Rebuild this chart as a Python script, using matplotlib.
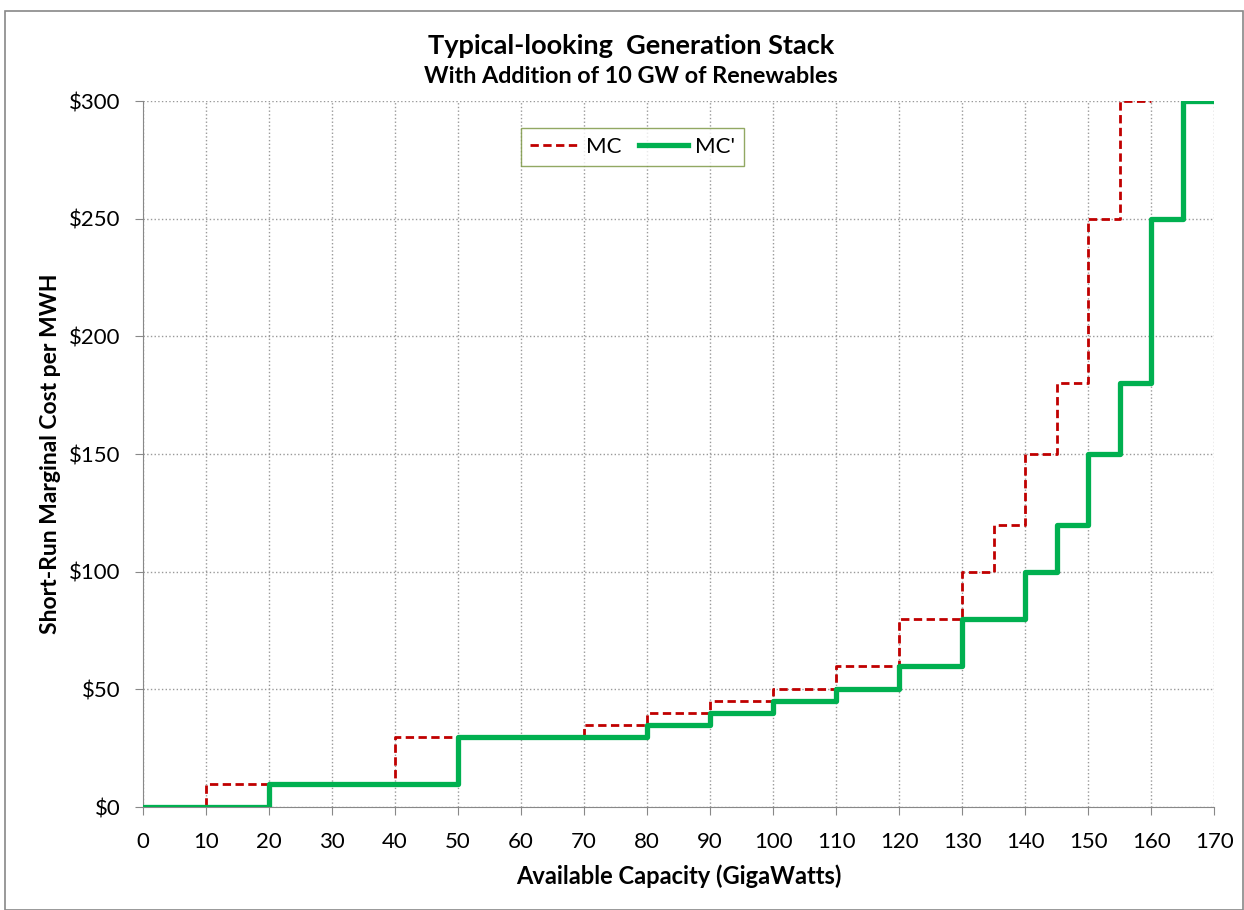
import matplotlib
matplotlib.use("Agg")
import matplotlib.pyplot as plt
import numpy as np

plt.rcParams['font.family'] = ['Lato', 'DejaVu Sans']

# step edges (GW) and marginal cost ($/MWh)
mc_edges = [0, 10, 40, 70, 80, 90, 100, 110, 120, 130, 135, 140, 145, 150, 155, 160]
mc_cost = [0, 10, 30, 35, 40, 45, 50, 60, 80, 100, 120, 150, 180, 250, 300]
mc2_edges = [0, 20, 50, 80, 90, 100, 110, 120, 130, 140, 145, 150, 155, 160, 165, 170]
mc2_cost = [0, 10, 30, 35, 40, 45, 50, 60, 80, 100, 120, 150, 180, 250, 300]

x_ticks = list(range(0, 171, 10))
y_ticks = [0, 50, 100, 150, 200, 250, 300]

fig = plt.figure(figsize=(12.44, 9.10), dpi=100)
ax = fig.add_axes([0.115, 0.113, 0.861, 0.776])

# red dashed original stack
ax.step(mc_edges, mc_cost + [mc_cost[-1]], where='post', color='#C00000',
        lw=2.0, ls=(0, (3, 1.6)), label='MC', zorder=3)
# green shifted stack
ax.step(mc2_edges, mc2_cost + [mc2_cost[-1]], where='post', color='#00B050',
        lw=3.8, label="MC'", zorder=4)

ax.set_xlim(0, 170)
ax.set_ylim(0, 300)
ax.set_xticks(x_ticks)
ax.set_yticks(y_ticks)
ax.set_yticklabels(['$' + str(v) for v in y_ticks])
ax.grid(True, color='#999999', ls=':', lw=1)
for s in ['top', 'right']:
    ax.spines[s].set_visible(False)
for s in ['left', 'bottom']:
    ax.spines[s].set_color('#888888')
ax.tick_params(direction='out', length=6, color='#888888', labelsize=16)
ax.tick_params(axis='y', pad=10)
ax.tick_params(axis='x', pad=12)

ax.set_xlabel('Available Capacity (GigaWatts)', fontsize=17, fontweight='bold', labelpad=9)
ax.set_ylabel('Short-Run Marginal Cost per MWH', fontsize=16.5, fontweight='bold', labelpad=6)

fig.text(0.507, 0.950, 'Typical-looking  Generation Stack', ha='center', va='center',
         fontsize=19.5, fontweight='bold')
fig.text(0.507, 0.916, 'With Addition of 10 GW of Renewables', ha='center', va='center',
         fontsize=16.8, fontweight='bold')

leg = ax.legend(loc='center', bbox_to_anchor=(0.457, 0.935), ncol=2, fontsize=16,
                frameon=True, fancybox=False, handlelength=2.2, columnspacing=0.8,
                handletextpad=0.3, borderpad=0.4)
leg.get_frame().set_edgecolor('#77933C')
leg.get_frame().set_linewidth(1)

# outer chart border
fig.patches.append(plt.Rectangle((0.004, 0.0), 0.995, 0.988, transform=fig.transFigure,
                                 fill=False, edgecolor='#888888', lw=1.2))

fig.savefig('out.png', dpi=100)
